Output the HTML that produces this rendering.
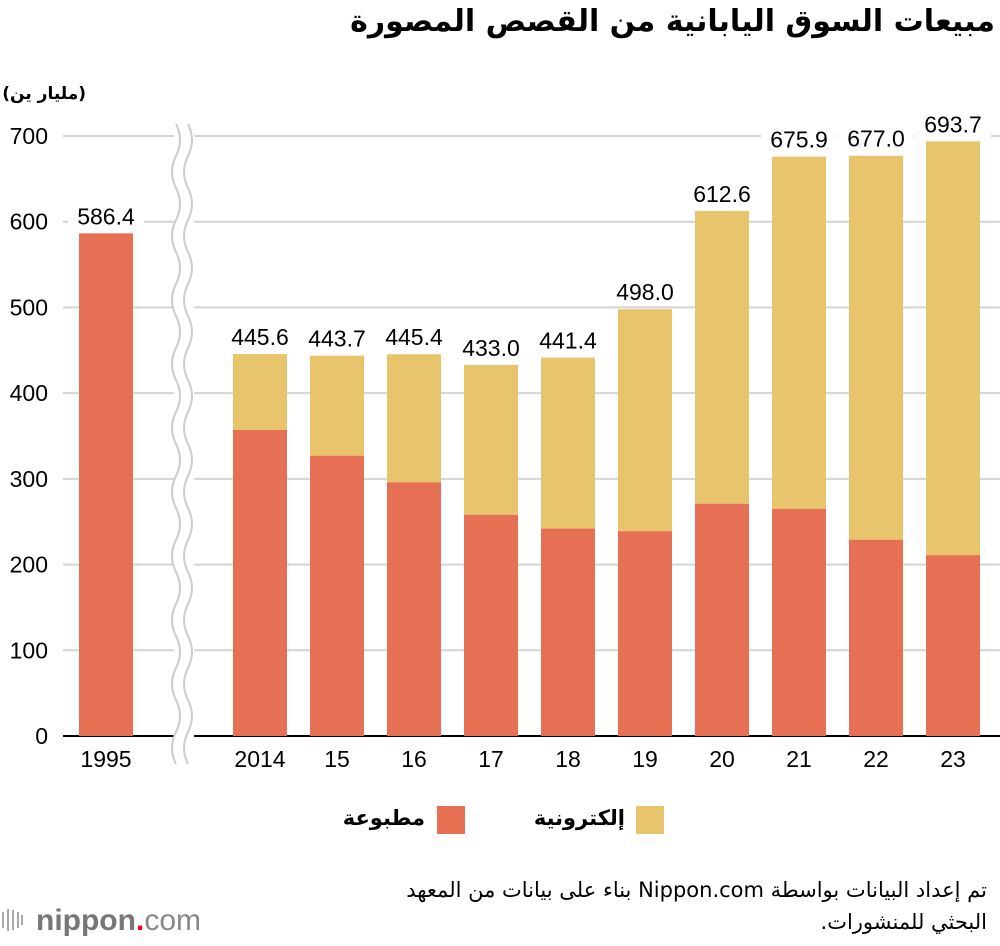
<!DOCTYPE html>
<html><head><meta charset="utf-8">
<style>
html,body{margin:0;padding:0;background:#fff;}
body{width:1000px;height:946px;overflow:hidden;position:relative;font-family:"Liberation Sans","DejaVu Sans",sans-serif;}
svg text{font-family:"Liberation Sans","DejaVu Sans",sans-serif;}
.ar{position:absolute;direction:rtl;white-space:nowrap;color:#000;font-family:"DejaVu Sans","Liberation Sans",sans-serif;}
</style></head>
<body>
<svg id="chart" width="1000" height="946" xmlns="http://www.w3.org/2000/svg" style="position:absolute;left:0;top:0">
<g id="grid"></g>
<g id="bars"></g>
<g id="labels"></g>
<g>
<rect x="174" y="124" width="20" height="640" fill="#fff"/>
<path d="M176 124 q8 16 0 32 q-8 16 0 32 q8 16 0 32 q-8 16 0 32 q8 16 0 32 q-8 16 0 32 q8 16 0 32 q-8 16 0 32 q8 16 0 32 q-8 16 0 32 q8 16 0 32 q-8 16 0 32 q8 16 0 32 q-8 16 0 32 q8 16 0 32 q-8 16 0 32 q8 16 0 32 q-8 16 0 32 q8 16 0 32 q-8 16 0 32" fill="none" stroke="#ccc" stroke-width="2"/>
<path d="M188 124 q8 16 0 32 q-8 16 0 32 q8 16 0 32 q-8 16 0 32 q8 16 0 32 q-8 16 0 32 q8 16 0 32 q-8 16 0 32 q8 16 0 32 q-8 16 0 32 q8 16 0 32 q-8 16 0 32 q8 16 0 32 q-8 16 0 32 q8 16 0 32 q-8 16 0 32 q8 16 0 32 q-8 16 0 32 q8 16 0 32 q-8 16 0 32" fill="none" stroke="#ccc" stroke-width="2"/>
</g>
<g>
<rect x="437" y="806" width="28" height="28" fill="#e67054"/>
<rect x="636" y="806" width="28" height="28" fill="#e8c46c"/>
</g>
<g>
<rect x="2" y="912" width="2" height="16" fill="#aaa"/><rect x="7" y="909" width="2" height="22" fill="#aaa"/><rect x="12" y="910" width="2" height="20" fill="#aaa"/><rect x="17" y="912" width="2" height="16" fill="#aaa"/><rect x="21" y="915" width="2" height="10" fill="#aaa"/>
<text x="36" y="930" font-size="30" fill="#777" font-weight="bold">nippon<tspan fill="#e5002d">.</tspan><tspan font-weight="normal" fill="#888">com</tspan></text>
</g>
</svg>
<div class="ar" style="right:5px;top:4px;font-size:30px;font-weight:bold;">مبيعات السوق اليابانية من القصص المصورة</div>
<div class="ar" style="right:914px;top:84px;font-size:17px;font-weight:bold;">(مليار ين)</div>
<div class="ar" style="right:575px;top:806px;font-size:21px;font-weight:bold;">مطبوعة</div>
<div class="ar" style="right:375px;top:806px;font-size:21px;font-weight:bold;">إلكترونية</div>
<div class="ar" style="right:13px;top:878px;font-size:21px;">تم إعداد البيانات بواسطة Nippon.com بناء على بيانات من المعهد</div>
<div class="ar" style="right:13px;top:910px;font-size:21px;">البحثي للمنشورات.</div>
<script>
const categories = ["1995","2014","15","16","17","18","19","20","21","22","23"];
const printedValues = [586.4,357,327,296,258,242,239,271,265,229,211];
const totalValues = [586.4,445.6,443.7,445.4,433.0,441.4,498.0,612.6,675.9,677.0,693.7];
const totalLabels = ["586.4","445.6","443.7","445.4","433.0","441.4","498.0","612.6","675.9","677.0","693.7"];
const yTicks = [0,100,200,300,400,500,600,700];

const NS = "http://www.w3.org/2000/svg";
function y(v){ return 736 - v * 600/700; }
function xLeft(i){ return i === 0 ? 79 : 233 + (i-1)*77; }
const BW = 54;
function mk(tag, attrs, parent){ const e=document.createElementNS(NS,tag); for(const k in attrs) e.setAttribute(k,attrs[k]); parent.appendChild(e); return e; }

const grid=document.getElementById('grid'), bars=document.getElementById('bars'), labels=document.getElementById('labels');
yTicks.forEach(t=>{
  const l=mk('line',{x1:63,x2:1000,y1:y(t),y2:y(t),stroke:t===0?'#000':'#d4d4d4','stroke-width':2},grid);
  
  
  const tx=mk('text',{x:48,y:y(t)+8,'text-anchor':'end','font-size':23,fill:'#000'},grid);
  tx.textContent=t;
  
  
});
categories.forEach((c,i)=>{
  const x=xLeft(i);
  const p=printedValues[i], tot=totalValues[i];
  if(tot>p){
    const d=mk('rect',{x:x,y:y(tot),width:BW,height:y(p)-y(tot),fill:'#e8c46c'},bars);
    
    
  }
  const r=mk('rect',{x:x,y:y(p),width:BW,height:y(0)-y(p),fill:'#e67054'},bars);
  
  
  const bgw=76;
  const bg=mk('rect',{x:x+BW/2-bgw/2,y:y(tot)-30,width:bgw,height:26,fill:'#fff'},labels);
  
  
  const v=mk('text',{x:x+BW/2,y:y(tot)-9,'text-anchor':'middle','font-size':23,fill:'#000'},labels);
  v.textContent=totalLabels[i];
  
  
  const xl=mk('text',{x:x+BW/2,y:767,'text-anchor':'middle','font-size':23,fill:'#000'},labels);
  xl.textContent=c;
  
  
});
</script>
</body></html>
